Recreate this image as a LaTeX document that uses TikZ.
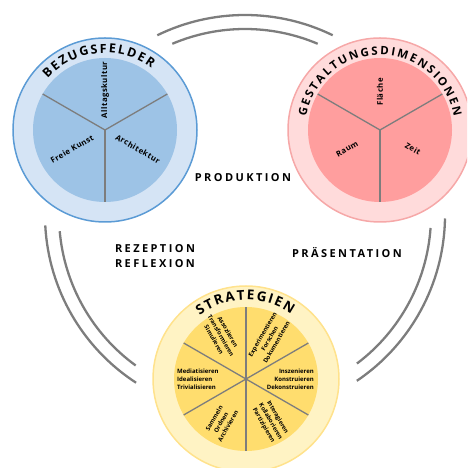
\documentclass[tikz,border=0pt]{standalone}
\usepackage{fontspec}
\setmainfont{Open Sans}
\usetikzlibrary{decorations.text,positioning,calc}
\definecolor{bezblue}{RGB}{91,155,213}
\definecolor{bezlight}{RGB}{213,228,245}
\definecolor{bezdark}{RGB}{157,195,230}
\definecolor{gestline}{RGB}{246,168,168}
\definecolor{gestlight}{RGB}{255,219,219}
\definecolor{gestdark}{RGB}{255,158,158}
\definecolor{stratline}{RGB}{255,226,140}
\definecolor{stratlight}{RGB}{255,243,196}
\definecolor{stratdark}{RGB}{255,221,110}
\definecolor{bowgray}{RGB}{125,125,125}
\newcommand{\spaced}[1]{\addfontfeature{LetterSpace=#1}}
\tikzset{
	ring/.style={
		line width=1.5pt,
	},
	spoke/.style={
		draw=bowgray,
		line width=1.3pt,
	},
	bow/.style={
		draw=bowgray,
		line width=2.3pt,
	},
	phase/.style={
		font=\fontsize{11}{15}\selectfont\bfseries\spaced{22},
		align=center,
	},
	field/.style={
		font=\fontsize{7.8}{9}\selectfont\bfseries\spaced{6},
	},
	verb/.style={
		font=\fontsize{6}{8}\selectfont\bfseries,
		align=center,
		inner sep=0pt,
	},
	title/.style 2 args={
		decorate,
		decoration={
			text along path,
			text align=fit to path,
			text={|\fontsize{#1}{#1}\selectfont\bfseries|#2},
		},
	},
}

\begin{document}
\begin{tikzpicture}[x=1pt,y=1pt]
	\useasboundingbox (0,0) rectangle (467,468);
	\clip (0,0) rectangle (467,468);

	\coordinate (mid) at (245,253);
	\coordinate (bez) at (105,338);
	\coordinate (gest) at (380,338);
	\coordinate (strat) at (246,89);

	% bows between the circles
	\draw[bow] (mid) ++(64:200) arc[start angle=64, end angle=116, radius=200];
	\draw[bow] (mid) ++(67:186) arc[start angle=67, end angle=113, radius=186];
	\draw[bow] (mid) ++(183:200) arc[start angle=183, end angle=237, radius=200];
	\draw[bow] (mid) ++(185:186) arc[start angle=185, end angle=234, radius=186];
	\draw[bow] (mid) ++(-1:200) arc[start angle=-1, end angle=-56, radius=200];
	\draw[bow] (mid) ++(-4:186) arc[start angle=-4, end angle=-53, radius=186];

	% Bezugsfelder
	\draw[ring, draw=bezblue, fill=bezlight] (bez) circle[radius=92];
	\fill[bezdark] (bez) circle[radius=72];
	\foreach \a in {30,150,270}
		\draw[spoke] (bez) -- ++(\a:72);
	\path[title={12.5}{BEZUGSFELDER}]
		(bez) ++(138:77) arc[start angle=138, end angle=53, radius=77];
	\node[field, rotate=90] (alltag) at ($(bez)+(90:40)$) {Alltagskultur};
	\node[field, rotate=30] (kunst) at ($(bez)+(210:38)$) {Freie Kunst};
	\node[field, rotate=-30] (archi) at ($(bez)+(330:38)$) {Architektur};

	% Gestaltungsdimensionen
	\draw[ring, draw=gestline, fill=gestlight] (gest) circle[radius=92];
	\fill[gestdark] (gest) circle[radius=72];
	\foreach \a in {30,150,270}
		\draw[spoke] (gest) -- ++(\a:72);
	\path[title={11.5}{GESTALTUNGSDIMENSIONEN}]
		(gest) ++(170:75) arc[start angle=170, end angle=10, radius=75];
	\node[field, rotate=90] (flaeche) at ($(gest)+(90:38)$) {Fläche};
	\node[field, rotate=30] (raum) at ($(gest)+(210:38)$) {Raum};
	\node[field, rotate=-30] (zeit) at ($(gest)+(330:38)$) {Zeit};

	% Strategien
	\draw[ring, draw=stratline, fill=stratlight] (strat) circle[radius=93];
	\fill[stratdark] (strat) circle[radius=72];
	\foreach \a in {30,90,...,330}
		\draw[spoke] (strat) -- ++(\a:72);
	\path[title={13.5}{STRATEGIEN}]
		(strat) ++(126:79) arc[start angle=126, end angle=55, radius=79];
	\node[verb, rotate=-60] (assoz) at ($(strat)+(120:50)$)
		{Assoziieren\\Transformieren\\Simulieren};
	\node[verb, rotate=60] (exper) at ($(strat)+(60:47)$)
		{Experimentieren\\Forschen\\Dokumentieren};
	\node[verb, align=right, anchor=east] (insz) at ($(strat)+(68,0)$)
		{Inszenieren\\Konstruieren\\Dekonstruieren};
	\node[verb, rotate=-60] (inter) at ($(strat)+(300:49)$)
		{Interagieren\\Kollaborieren\\Partizipieren};
	\node[verb, rotate=60] (samm) at ($(strat)+(240:50)$)
		{Sammeln\\Ordnen\\Archivieren};
	\node[verb, align=left, anchor=west] (media) at ($(strat)+(-69,0)$)
		{Mediatisieren\\Idealisieren\\Trivialisieren};

	% Phasen
	\node[phase] (prod) at (243,290) {PRODUKTION};
	\node[phase] (rezep) at (155,212) {REZEPTION\\REFLEXION};
	\node[phase] (praes) at (347,215) {PRÄSENTATION};
\end{tikzpicture}
\end{document}
